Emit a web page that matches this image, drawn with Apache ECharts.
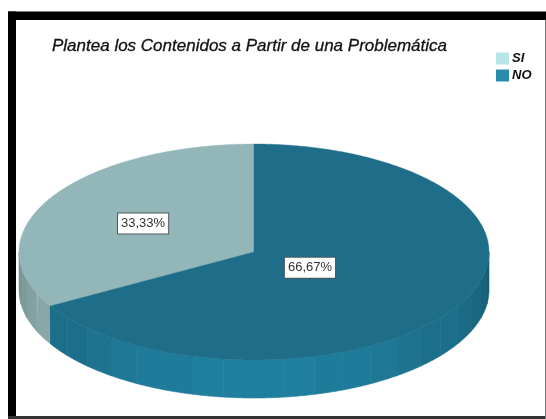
<!DOCTYPE html>
<html>
<head>
<meta charset="utf-8">
<style>html,body{margin:0;padding:0;background:#fff}#chart{width:546px;height:419px}</style>
<script src="https://cdn.jsdelivr.net/npm/echarts@6/dist/echarts.min.js"></script>
</head>
<body>
<div id="chart"></div>
<script>
// Slice names and percentages
const categories = ['SI', 'NO'];
const percentages = [33.33, 66.67];
const titleText = 'Plantea los Contenidos a Partir de una Problemática';

// Swatch colours, plus the colours of the disc's top face and outer wall
const baseColors = ['#b6e6e7', '#2a8cab'];
const topColors = ['#93b7b9', '#1e6d89'];
const wallColors = ['#b0d6d7', '#2289ab'];

// Tilted disc geometry, in pixels
const disc = { cx: 254, cy: 252, rx: 235, ry: 108, depth: 38 };
const wallStep = 7.5;                // width of one wall facet, degrees
const labelRadius = [0.545, 0.275];  // label distance from centre, as a share of the radius

const total = percentages.reduce((a, b) => a + b, 0);

function shade(hex, k) {
  const n = parseInt(hex.slice(1), 16);
  const c = [n >> 16, (n >> 8) & 255, n & 255].map(v => Math.round(v * k));
  return 'rgb(' + c.join(',') + ')';
}

// Angles run clockwise from 12 o'clock: NO starts at the top, SI closes the circle
function sliceRange(i) {
  const split = percentages[1] / total * 360;
  return i === 1 ? [0, split] : [split, 360];
}

function rimPoint(deg, dy) {
  const a = deg * Math.PI / 180;
  return [disc.cx + disc.rx * Math.sin(a), disc.cy - disc.ry * Math.cos(a) + (dy || 0)];
}

// Wall brightness falls off away from the front; coarse steps give the faceted look
function facetShade(deg) {
  const t = Math.abs(180 - deg) / 90;
  return Math.round((0.93 - 0.27 * Math.pow(t, 1.5)) / 0.03) * 0.03;
}

function wallFacets(i) {
  const range = sliceRange(i);
  const from = Math.max(range[0], 90);
  const to = Math.min(range[1], 270);
  const out = [];
  if (to <= from) return out;
  const first = Math.floor(from / wallStep) * wallStep;
  for (let s = first; s < to; s += wallStep) {
    const a = Math.max(s, from);
    const b = Math.min(s + wallStep, to);
    const pts = [];
    for (let d = a; d <= b + 1e-6; d += 0.5) pts.push(rimPoint(Math.min(d, b)));
    for (let d = b; d >= a - 1e-6; d -= 0.5) pts.push(rimPoint(Math.max(d, a), disc.depth));
    const fill = shade(wallColors[i], facetShade((a + b) / 2));
    out.push({
      type: 'polygon',
      shape: { points: pts },
      style: { fill: fill, stroke: fill, lineWidth: 0.6 },
      z2: 1
    });
  }
  return out;
}

function topFace(i) {
  const range = sliceRange(i);
  const pts = [[disc.cx, disc.cy]];
  for (let d = range[0]; d < range[1]; d += 0.5) pts.push(rimPoint(d));
  pts.push(rimPoint(range[1]));
  const fill = topColors[i];
  return { type: 'polygon', shape: { points: pts }, style: { fill: fill, stroke: fill, lineWidth: 0.4 }, z2: 2 + i };
}

function valueLabel(i) {
  const range = sliceRange(i);
  const mid = (range[0] + range[1]) / 2 * Math.PI / 180;
  const r = labelRadius[i];
  return {
    type: 'text',
    z2: 10,
    style: {
      x: disc.cx + disc.rx * r * Math.sin(mid),
      y: disc.cy - disc.ry * r * Math.cos(mid) + 1,
      text: percentages[i].toFixed(2).replace('.', ',') + '%',
      fill: '#333',
      font: '13px "Liberation Sans", Arial, sans-serif',
      align: 'center',
      verticalAlign: 'middle',
      backgroundColor: '#fff',
      borderColor: '#4a5a60',
      borderWidth: 1,
      padding: [4, 3, 3, 3]
    }
  };
}

const chart = echarts.init(document.getElementById('chart'), null, { renderer: 'canvas' });

const pieSeries = categories.map((name, i) => ({
  type: 'custom',
  name: name,
  coordinateSystem: 'none',
  itemStyle: { color: baseColors[i] },
  z: i === 0 ? 2 : 3,
  data: [{ name: name, value: percentages[i] }],
  renderItem: () => ({
    type: 'group',
    children: wallFacets(i).concat([topFace(i), valueLabel(i)])
  })
}));

chart.setOption({
  animation: false,
  backgroundColor: '#fff',
  title: {
    text: titleText,
    left: 52,
    top: 38,
    padding: 0,
    textStyle: {
      fontFamily: '"Liberation Sans", Arial, sans-serif',
      fontSize: 17,
      fontStyle: 'italic',
      fontWeight: 'normal',
      color: '#111',
      textBorderColor: '#111',
      textBorderWidth: 0.3
    }
  },
  legend: {
    data: categories,
    orient: 'vertical',
    left: 496,
    top: 52,
    padding: 0,
    itemWidth: 13,
    itemHeight: 12,
    itemGap: 4,
    icon: 'rect',
    selectedMode: false,
    textStyle: {
      fontFamily: '"Liberation Sans", Arial, sans-serif',
      fontSize: 13,
      fontStyle: 'italic',
      fontWeight: 'bold',
      color: '#111',
      padding: [0, 0, 0, -2]
    }
  },
  graphic: [
    // Picture frame: heavy top and left, thin right and bottom
    { type: 'rect', z: -1, shape: { x: 8, y: 11.5, width: 538, height: 8.5 }, style: { fill: '#000' } },
    { type: 'rect', z: -1, shape: { x: 8, y: 11.5, width: 8, height: 407.5 }, style: { fill: '#000' } },
    { type: 'rect', z: -1, shape: { x: 8, y: 416, width: 538, height: 3 }, style: { fill: '#333' } },
    { type: 'rect', z: -1, shape: { x: 545, y: 20, width: 1, height: 399 }, style: { fill: '#777' } }
  ],
  series: pieSeries
});
</script>
</body>
</html>
